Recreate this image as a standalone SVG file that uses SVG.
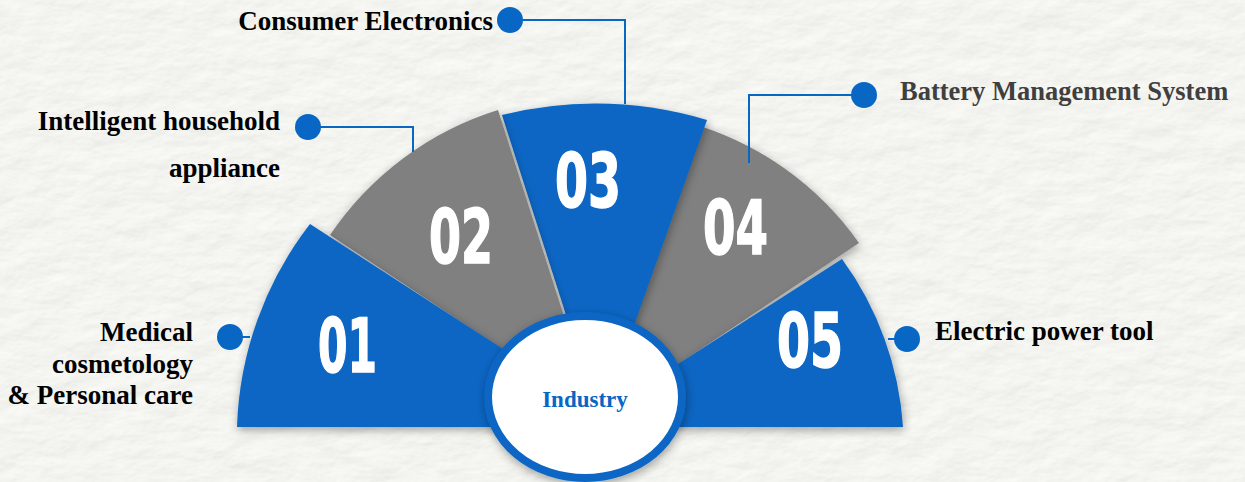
<svg xmlns="http://www.w3.org/2000/svg" width="1245" height="482" viewBox="0 0 1245 482">
<defs>
<filter id="paper" x="0" y="0" width="100%" height="100%" filterUnits="userSpaceOnUse">
<feTurbulence type="fractalNoise" baseFrequency="0.025 0.045" numOctaves="4" seed="7" result="n"/>
<feDiffuseLighting in="n" lighting-color="#fffffb" surfaceScale="1.1" diffuseConstant="1" result="l">
<feDistantLight azimuth="60" elevation="64"/>
</feDiffuseLighting>
</filter>
<filter id="sh" x="-20%" y="-20%" width="140%" height="140%">
<feDropShadow dx="1" dy="3" stdDeviation="5" flood-color="#000" flood-opacity="0.35"/>
</filter>
<style>
.blue{fill:#0866c4}
.gray{fill:#808080}
.seg{filter:url(#sh)}
.num{font-family:"DejaVu Sans Condensed","DejaVu Sans",sans-serif;font-weight:bold;font-size:75px;fill:#fff;stroke:#fff;stroke-width:1.5}
.lbl{font-family:"Liberation Serif","Times New Roman",serif;font-weight:bold;font-size:27px;fill:#000}
.con{fill:none;stroke:#0866c4;stroke-width:2}
.dot{fill:#0866c4}
</style>
</defs>
<rect width="1245" height="482" fill="#e6e5e1"/>
<rect width="1245" height="482" filter="url(#paper)"/>

<g id="node-04"><path class="gray seg" d="M690,123 A313,313 0 0 1 859,243 L610,410 L600,400 Z"/><text class="num" x="703" y="254" textLength="65" lengthAdjust="spacingAndGlyphs">04</text></g>
<g id="node-05"><path class="blue seg" d="M842,259 A320,320 0 0 1 903,427 L600,427 L600,414 Z"/><text class="num" x="777" y="367" textLength="66" lengthAdjust="spacingAndGlyphs">05</text></g>
<g id="node-03"><path class="blue seg" d="M502,115 A395,395 0 0 1 707,120 L600,421 Z"/><text class="num" x="555" y="207" textLength="66" lengthAdjust="spacingAndGlyphs">03</text></g>
<g id="node-02"><path class="gray seg" d="M330,235 A316,316 0 0 1 498,110 L594,410 Z"/><text class="num" x="429" y="263" textLength="64" lengthAdjust="spacingAndGlyphs">02</text></g>
<g id="node-01"><path class="blue seg" d="M237,427 A350,350 0 0 1 310,224 L560,386 L560,427 Z"/><text class="num" x="318" y="372" textLength="59" lengthAdjust="spacingAndGlyphs">01</text></g>

<g id="node-industry">
<ellipse cx="585" cy="397" rx="97" ry="81" fill="#fff" stroke="#0866c4" stroke-width="8" filter="url(#sh)"/>
<text x="585" y="407" text-anchor="middle" font-family="'Liberation Serif','Times New Roman',serif" font-weight="bold" font-size="23" fill="#0866c4">Industry</text>
</g>

<g id="connectors">
<path class="con" d="M230,337 H250"/>
<path class="con" d="M308,127 H413 V152"/>
<path class="con" d="M510,20 H625 V104"/>
<path class="con" d="M864,95 H749 V163"/>
<path class="con" d="M907,339 H888"/>
<circle class="dot" cx="230" cy="337" r="13"/>
<circle class="dot" cx="308" cy="127" r="13"/>
<circle class="dot" cx="510" cy="20" r="13"/>
<circle class="dot" cx="864" cy="95" r="13"/>
<circle class="dot" cx="907" cy="339" r="13"/>
</g>

<g id="labels">
<text class="lbl" x="493" y="30" text-anchor="end">Consumer Electronics</text>
<text class="lbl" x="280" y="130" text-anchor="end">Intelligent household</text>
<text class="lbl" x="280" y="177" text-anchor="end">appliance</text>
<text class="lbl" x="900" y="100" style="fill:#3f3f3f;font-size:26.5px">Battery Management System</text>
<text class="lbl" x="935" y="340">Electric power tool</text>
<text class="lbl" x="193" y="341" text-anchor="end">Medical</text>
<text class="lbl" x="193" y="373" text-anchor="end">cosmetology</text>
<text class="lbl" x="193" y="404" text-anchor="end">&amp; Personal care</text>
</g>
</svg>
